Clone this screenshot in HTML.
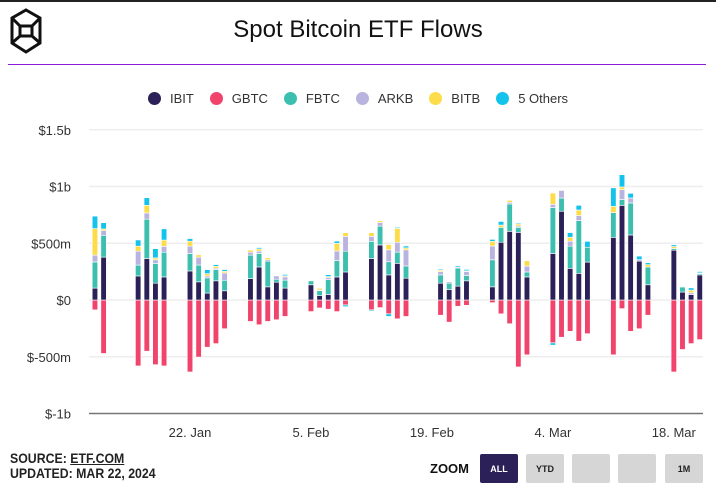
<!DOCTYPE html>
<html><head><meta charset="utf-8">
<style>
body{margin:0;width:716px;height:494px;overflow:hidden;background:#fff;font-family:"Liberation Sans",sans-serif;}
#wrap{position:relative;width:716px;height:494px;}
.topline{position:absolute;left:0;top:0;width:716px;height:2px;background:#222;}
.title{position:absolute;left:0;width:716px;top:16px;text-align:center;font-size:24px;color:#111;}
.rule{position:absolute;left:8px;top:64px;width:698px;height:1px;background:#8a1bd6;}
.legend{position:absolute;top:91px;left:0;width:716px;display:flex;justify-content:center;font-size:13px;color:#333;}
.li{display:flex;align-items:center;margin:0 8px;}
.dot{width:13px;height:13px;border-radius:50%;margin-right:9px;}
.foot{position:absolute;left:10px;top:451px;font-size:14px;font-weight:bold;color:#222;line-height:15px;transform:scaleX(0.88);transform-origin:left;}
.zoomlbl{position:absolute;left:430px;top:461px;font-size:13px;font-weight:bold;color:#111;}
.btn{position:absolute;top:454px;height:29px;width:38px;background:#d6d6d6;border-radius:2px;font-size:9px;font-weight:bold;color:#222;display:flex;align-items:center;justify-content:center;}
</style></head><body>
<div id="wrap">
<div class="topline"></div>
<svg style="position:absolute;left:9px;top:8px" width="34" height="46" viewBox="0 0 34 46">
<g fill="none" stroke="#111" stroke-width="3"><polygon points="17,2 31,10 31,35 17,44 3,35 3,10"/><polyline points="3,10 11,18 23,18 31,10"/><polyline points="3,35 11,28 23,28 31,35"/><line x1="11" y1="18" x2="11" y2="28"/><line x1="23" y1="18" x2="23" y2="28"/></g></svg>
<div class="title">Spot Bitcoin ETF Flows</div>
<div class="rule"></div>
<div class="legend">
<div class="li"><span class="dot" style="background:#2b2158"></span>IBIT</div>
<div class="li"><span class="dot" style="background:#f0446c"></span>GBTC</div>
<div class="li"><span class="dot" style="background:#3dbfb0"></span>FBTC</div>
<div class="li"><span class="dot" style="background:#b9b3e0"></span>ARKB</div>
<div class="li"><span class="dot" style="background:#fddc4a"></span>BITB</div>
<div class="li"><span class="dot" style="background:#13c3eb"></span>5 Others</div>
</div>
<svg id="chart" style="position:absolute;left:0;top:0" width="716" height="494"></svg>
<div class="foot">SOURCE: <span style="text-decoration:underline">ETF.COM</span><br>UPDATED: MAR 22, 2024</div>
<div class="zoomlbl">ZOOM</div>
<div class="btn" style="left:480px;background:#2b2158;color:#fff">ALL</div>
<div class="btn" style="left:526px">YTD</div>
<div class="btn" style="left:572px"></div>
<div class="btn" style="left:618px"></div>
<div class="btn" style="left:665px">1M</div>
</div>
<script>
const dates=["2024-01-11","2024-01-12","2024-01-16","2024-01-17","2024-01-18","2024-01-19","2024-01-22","2024-01-23","2024-01-24","2024-01-25","2024-01-26","2024-01-29","2024-01-30","2024-01-31","2024-02-01","2024-02-02","2024-02-05","2024-02-06","2024-02-07","2024-02-08","2024-02-09","2024-02-12","2024-02-13","2024-02-14","2024-02-15","2024-02-16","2024-02-20","2024-02-21","2024-02-22","2024-02-23","2024-02-26","2024-02-27","2024-02-28","2024-02-29","2024-03-01","2024-03-04","2024-03-05","2024-03-06","2024-03-07","2024-03-08","2024-03-11","2024-03-12","2024-03-13","2024-03-14","2024-03-15","2024-03-18","2024-03-19","2024-03-20","2024-03-21"];
const ibit=[105,378,212,366,148,203,256,160,61,169,81,189,291,116,157,105,134,38,49,203,247,366,485,221,323,192,148,93,122,169,116,509,605,596,203,410,782,279,235,334,552,834,573,343,134,439,70,47,221];
const gbtc=[-87,-471,-581,-451,-570,-581,-634,-503,-416,-384,-253,-189,-218,-189,-174,-145,-102,-70,-81,-102,-44,-87,-67,-122,-166,-145,-134,-195,-55,-47,-23,-122,-209,-590,-483,-378,-328,-276,-363,-297,-483,-76,-276,-253,-134,-634,-436,-384,-349];
const fbtc=[230,192,96,346,174,218,154,148,134,99,93,206,119,227,26,70,35,44,131,145,183,151,166,116,99,108,73,55,160,47,238,131,241,44,44,404,116,195,465,131,218,52,282,0,157,15,44,0,12];
const arkb=[61,41,122,55,32,52,64,70,17,12,64,26,20,12,29,29,0,6,17,84,131,44,32,105,87,142,29,12,9,35,122,0,15,12,52,29,67,44,44,0,0,87,44,12,0,0,0,17,6];
const bitb=[233,15,44,67,17,55,44,20,20,17,15,20,20,17,0,9,0,15,9,67,32,32,15,47,122,17,12,0,0,6,41,20,17,17,47,99,0,35,49,0,55,23,0,0,20,17,0,23,0];
const others=[110,55,55,67,81,99,23,0,35,15,15,3,12,0,0,12,6,0,17,20,-15,-10,0,-23,9,17,9,0,12,12,17,32,0,9,0,-20,0,41,41,52,163,108,41,32,17,15,0,20,12];
const yTicks=[1500,1000,500,0,-500,-1000];
const yTickLabels=["$1.5b","$1b","$500m","$0","$-500m","$-1b"];
const xTickDates=["2024-01-22","2024-02-05","2024-02-19","2024-03-04","2024-03-18"];
const xTickLabels=["22. Jan","5. Feb","19. Feb","4. Mar","18. Mar"];
const series=[["ibit",ibit,"#2b2158"],["fbtc",fbtc,"#3dbfb0"],["arkb",arkb,"#b9b3e0"],["bitb",bitb,"#fddc4a"],["others",others,"#13c3eb"]];

const svg=document.getElementById('chart');
const NS='http://www.w3.org/2000/svg';
const ref=Date.UTC(2024,0,22);
function xPos(d){const p=d.split('-');const t=Date.UTC(+p[0],+p[1]-1,+p[2]);return 190+(t-ref)/86400000*8.64;}
function yPos(v){return 300-v*0.1135;}
function mk(tag,at){const e=document.createElementNS(NS,tag);for(const k in at)e.setAttribute(k,at[k]);svg.appendChild(e);return e;}
yTicks.forEach((v,i)=>{
  const y=yPos(v);
  const l=mk('line',{x1:89,x2:703,y1:y,y2:y,stroke:v===-1000?'#777':'#eee','stroke-width':1.5});
  
  
  const t=mk('text',{x:71,y:y+5,'text-anchor':'end','font-size':13,fill:'#333','font-family':'Liberation Sans, sans-serif'});
  t.textContent=yTickLabels[i];
  
  
});
xTickDates.forEach((d,i)=>{
  const t=mk('text',{x:xPos(d),y:437,'text-anchor':'middle','font-size':13,fill:'#333','font-family':'Liberation Sans, sans-serif'});
  t.textContent=xTickLabels[i];
  
  
});
const bw=5.5;
dates.forEach((d,i)=>{
  const x=xPos(d)-bw/2;
  let pos=0,neg=0;
  const bars=[["gbtc",gbtc,"#f0446c"]].concat(series);
  bars.forEach(s=>{
    const v=s[1][i]; if(!v) return;
    let y0,y1;
    if(v>0){y0=yPos(pos+v);y1=yPos(pos);pos+=v;}else{y0=yPos(neg);y1=yPos(neg+v);neg+=v;}
    const r=mk('rect',{x:x,y:y0,width:bw,height:Math.max(0.5,y1-y0),fill:s[2],stroke:'#fff','stroke-width':0.6});
    
    
  });
});
</script>
</body></html>
